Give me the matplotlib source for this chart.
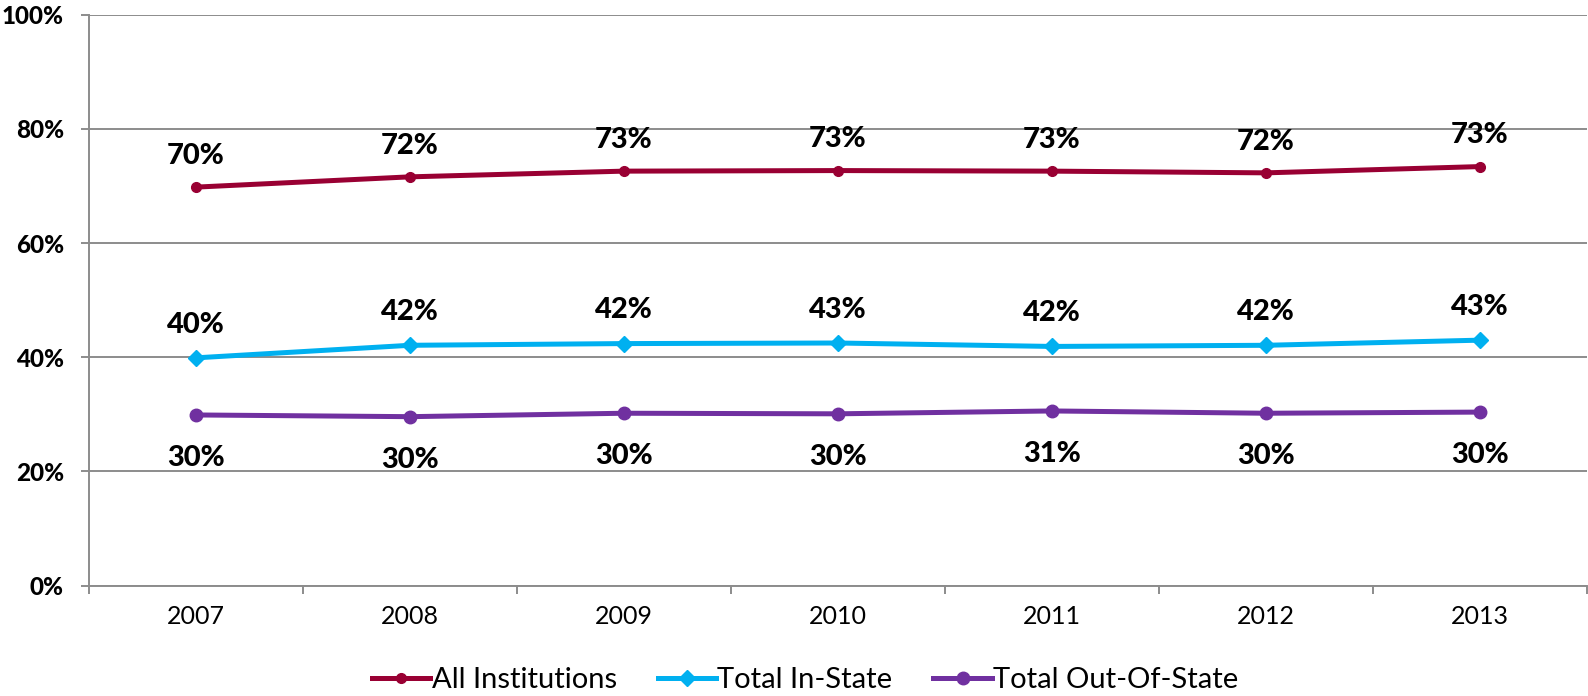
import matplotlib
matplotlib.use("Agg")
import matplotlib.pyplot as plt
from matplotlib.ticker import FuncFormatter

plt.rcParams['font.family'] = ['Lato', 'DejaVu Sans']
BOLD = ['Lato', 'DejaVu Sans']
BW = 900

years = ['2007', '2008', '2009', '2010', '2011', '2012', '2013']
all_inst = [69.8, 71.6, 72.6, 72.7, 72.6, 72.3, 73.4]
in_state = [39.9, 42.1, 42.4, 42.5, 41.9, 42.1, 43.0]
out_state = [29.9, 29.6, 30.2, 30.1, 30.6, 30.2, 30.4]
all_labels = ['70%', '72%', '73%', '73%', '73%', '72%', '73%']
in_labels = ['40%', '42%', '42%', '43%', '42%', '42%', '43%']
out_labels = ['30%', '30%', '30%', '30%', '31%', '30%', '30%']

c_all = '#990033'
c_in = '#00B0F0'
c_out = '#7030A0'

fig = plt.figure(figsize=(15.88, 6.96), dpi=100)
ax = fig.add_axes([0.0559, 0.1585, 0.9435, 0.8204])

x = list(range(len(years)))
ax.plot(x, all_inst, color=c_all, lw=3.6, marker='o', ms=7, label='All Institutions', zorder=3)
ax.plot(x, in_state, color=c_in, lw=3.6, marker='D', ms=8, label='Total In-State', zorder=3)
ax.plot(x, out_state, color=c_out, lw=3.6, marker='o', ms=9, label='Total Out-Of-State', zorder=3)

for xi, v, t in zip(x, all_inst, all_labels):
    ax.annotate(t, (xi, v), xytext=(0, 22.5), textcoords='offset points',
                ha='center', va='center', fontsize=21, fontweight=BW, family=BOLD)
for xi, v, t in zip(x, in_state, in_labels):
    ax.annotate(t, (xi, v), xytext=(0, 24), textcoords='offset points',
                ha='center', va='center', fontsize=21, fontweight=BW, family=BOLD)
for xi, v, t in zip(x, out_state, out_labels):
    ax.annotate(t, (xi, v), xytext=(0, -31), textcoords='offset points',
                ha='center', va='center', fontsize=21, fontweight=BW, family=BOLD)

ax.set_xlim(-0.5, len(years) - 0.5)
ax.set_ylim(0, 100)
ax.set_yticks([0, 20, 40, 60, 80, 100])
ax.yaxis.set_major_formatter(FuncFormatter(lambda v, p: f'{int(v)}%'))
ax.set_xticks(x)
ax.set_xticklabels(years)
ax.set_xticks([i - 0.5 for i in range(len(years) + 1)], minor=True)

grid_c = '#8C8C8C'
ax.grid(axis='y', color=grid_c, lw=1.4)
ax.set_axisbelow(True)
for s in ['top', 'right']:
    ax.spines[s].set_visible(False)
for s in ['left', 'bottom']:
    ax.spines[s].set_color(grid_c)
    ax.spines[s].set_linewidth(1.4)

ax.tick_params(axis='y', length=6, color=grid_c, width=1.4, pad=12, labelsize=17.5)
for lab in ax.get_yticklabels():
    lab.set_fontweight(BW)
    lab.set_family(BOLD)
ax.tick_params(axis='x', which='major', length=0, pad=14, labelsize=18)
ax.tick_params(axis='x', which='minor', length=6, color=grid_c, width=1.4)

leg = fig.legend(loc='center', bbox_to_anchor=(0.507, 0.023), ncol=3, frameon=False,
                 fontsize=21, handlelength=2.0, handletextpad=0.05, columnspacing=1.4)

fig.savefig('out.png', dpi=100)
